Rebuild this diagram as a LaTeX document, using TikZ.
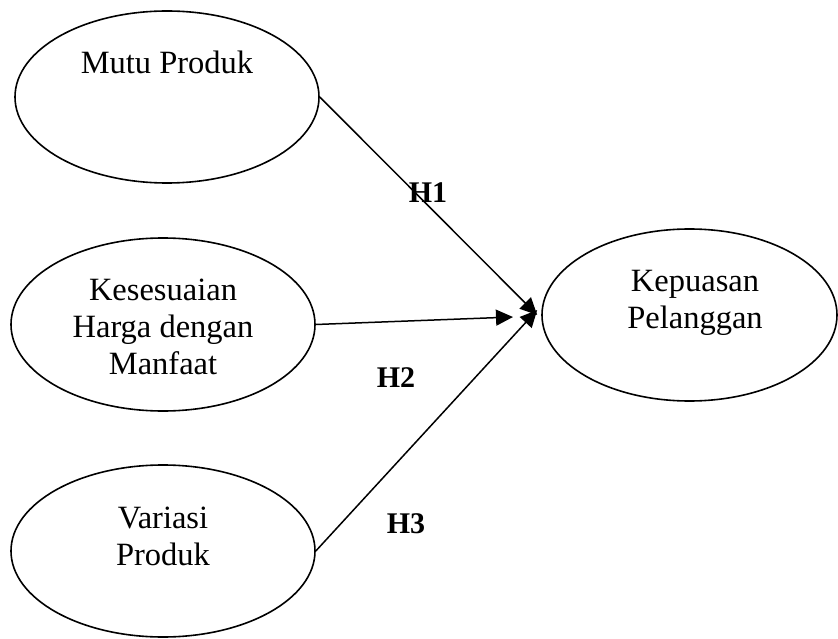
\documentclass[tikz,border=0pt]{standalone}
\usepackage{fontspec}
\setmainfont{Liberation Serif}
\usetikzlibrary{shapes.geometric,arrows.meta}
\begin{document}
\begin{tikzpicture}[x=1pt,y=-1pt,
  construct/.style={draw, line width=1.6pt, ellipse, inner sep=0pt},
  label/.style={font=\fontsize{32.5}{37}\selectfont, align=center, anchor=base, inner sep=0pt},
  hyp/.style={font=\fontsize{30}{36}\selectfont\bfseries, anchor=base, inner sep=0pt},
  link/.style={line width=1.5pt, -{Triangle[length=17pt,width=16pt]}}]
\useasboundingbox (0,0) rectangle (838,639);

% latent constructs
\node[construct, minimum width=304pt, minimum height=172pt] (mutu) at (167,97) {};
\node[construct, minimum width=304pt, minimum height=173pt] (harga) at (163,324.5) {};
\node[construct, minimum width=304pt, minimum height=172pt] (variasi) at (163,551) {};
\node[construct, minimum width=295pt, minimum height=172pt] (puas) at (689.5,315) {};

% construct names (base anchor = baseline of the last line)
\node[label] (tmutu) at (167,74) {Mutu Produk};
\node[label] (tharga) at (163,374) {Kesesuaian\\Harga dengan\\Manfaat};
\node[label] (tvariasi) at (163,565) {Variasi\\Produk};
\node[label] (tpuas) at (695,328) {Kepuasan\\Pelanggan};

% hypothesised paths
\coordinate (tip1) at ([xshift=-4pt]puas.west);
\coordinate (tip2) at (513,317);
\coordinate (tip3) at ([shift={(-4pt,5pt)}]puas.west);
\draw[link] (mutu.east) -- (tip1);
\draw[link] (harga.east) -- (tip2);
\draw[link] (variasi.east) -- (tip3);

% hypothesis labels
\node[hyp] (h1) at (428,203) {H1};
\node[hyp] (h2) at (396,387) {H2};
\node[hyp] (h3) at (406,533) {H3};
\end{tikzpicture}
\end{document}
